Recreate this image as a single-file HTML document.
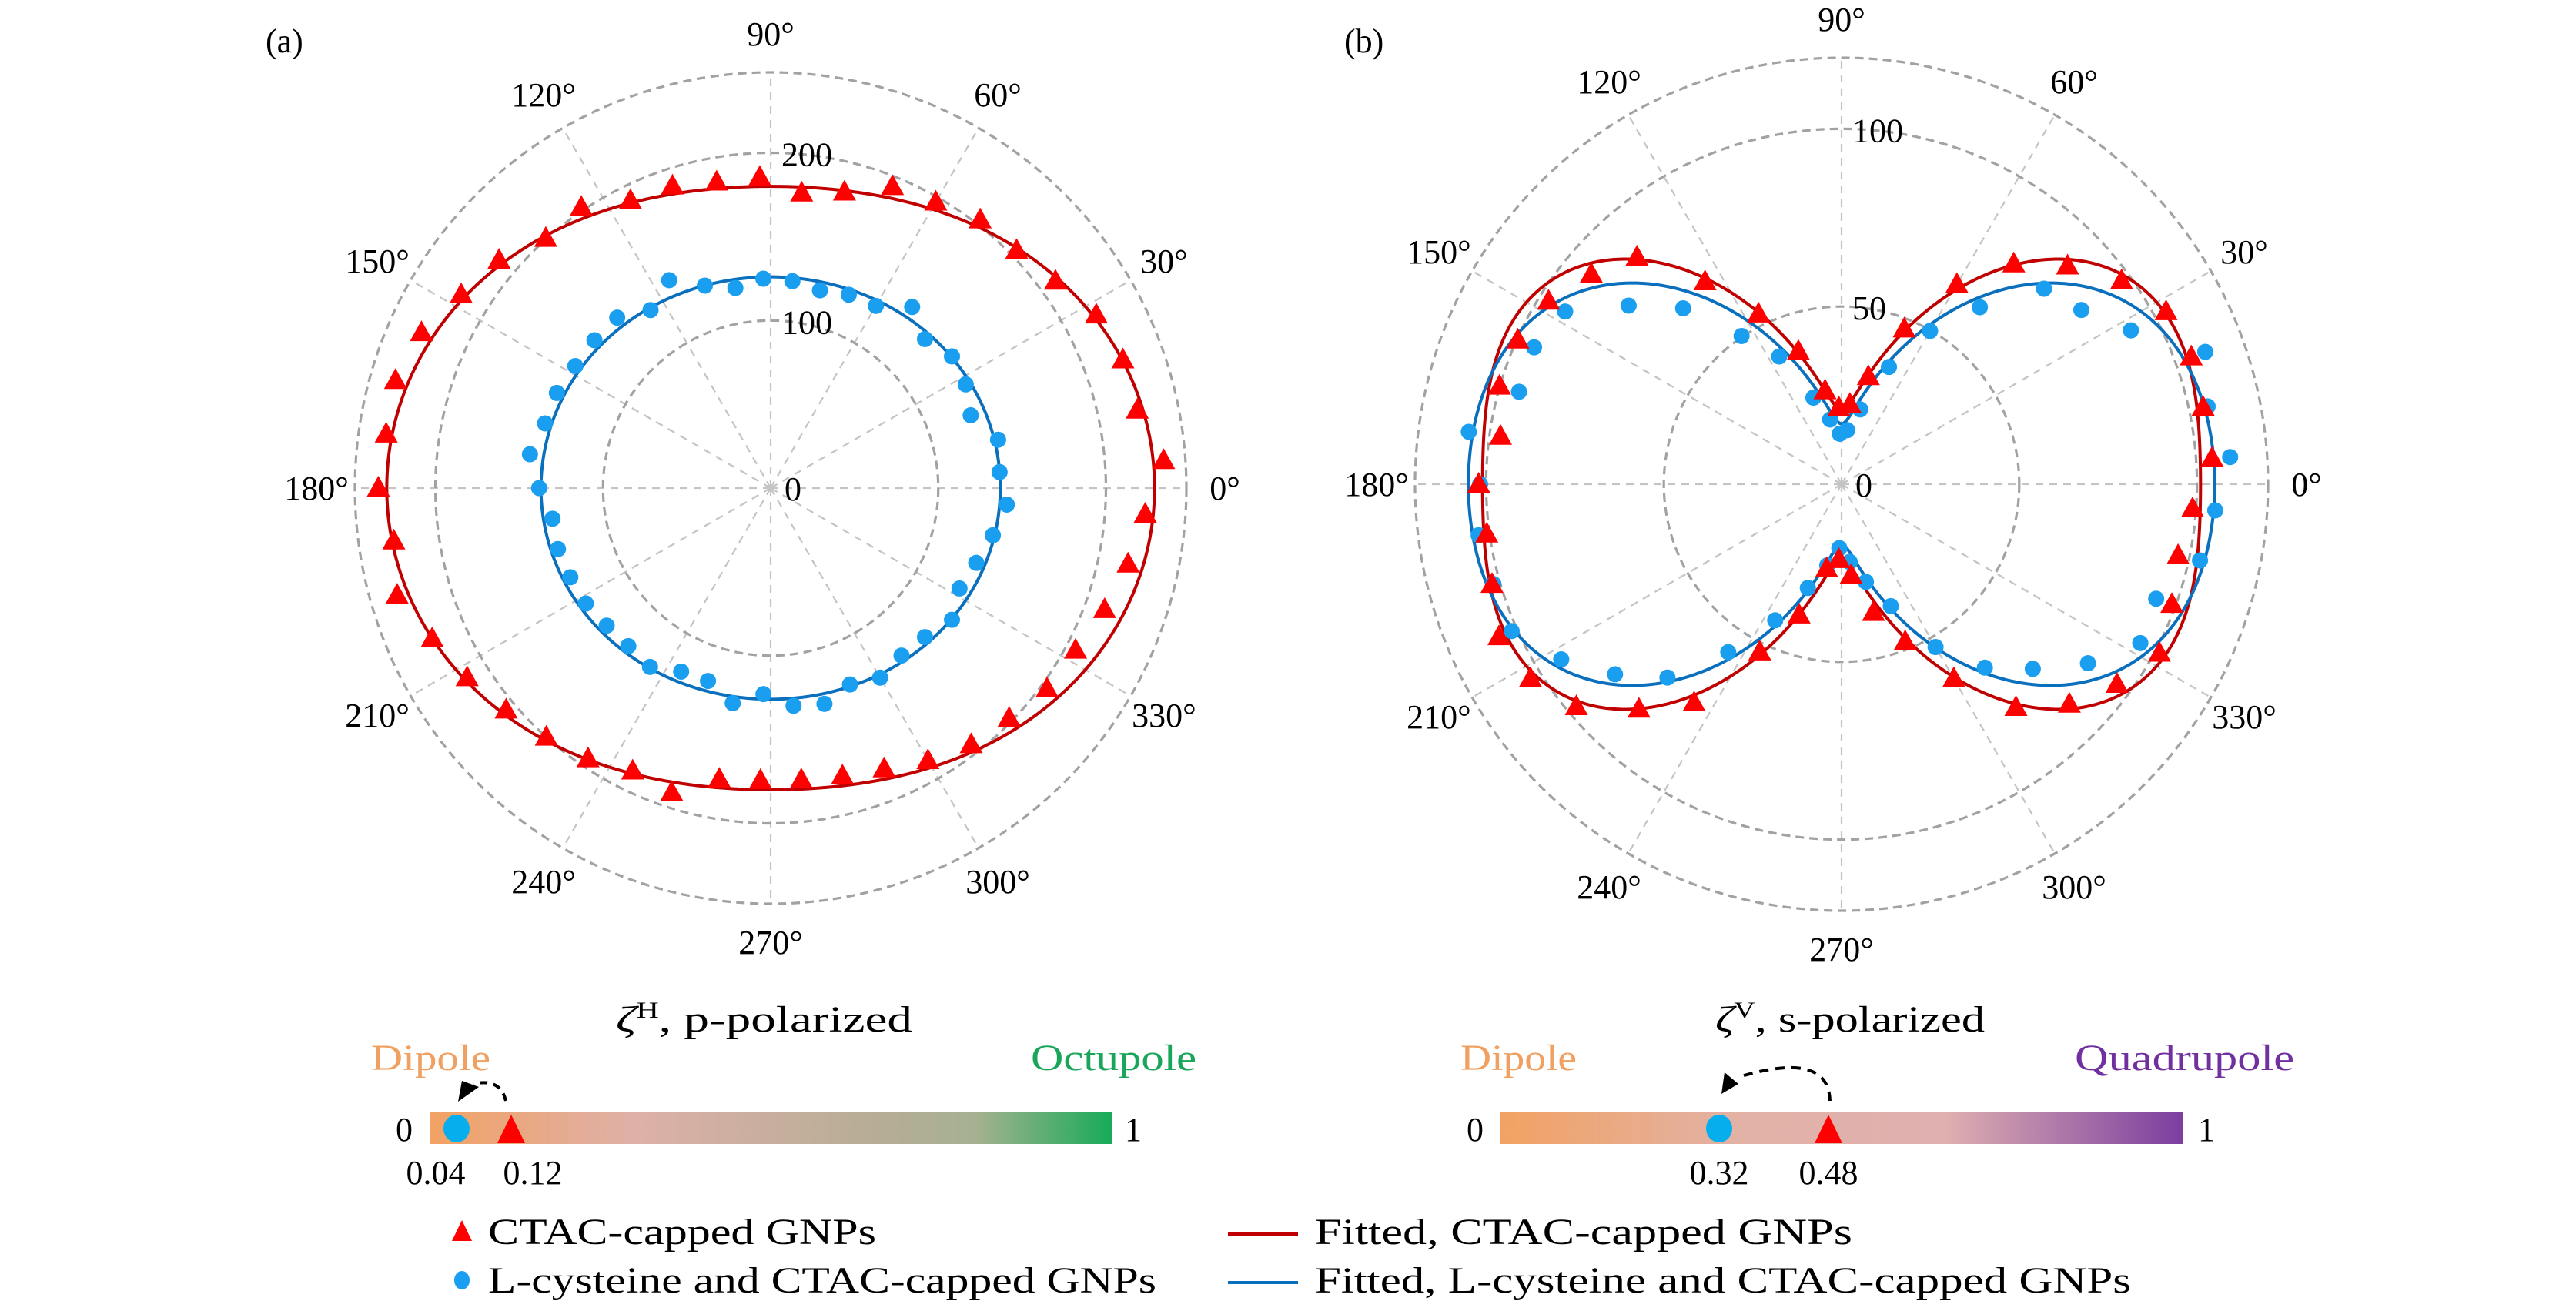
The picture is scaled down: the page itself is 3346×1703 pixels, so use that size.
<!DOCTYPE html>
<html><head><meta charset="utf-8"><style>
html,body{margin:0;padding:0;background:#fff}
svg{display:block}
text{font-family:"Liberation Serif",serif;fill:#000}
</style></head><body>
<svg id="fig" width="3346" height="1703" viewBox="0 0 3346 1703" xmlns="http://www.w3.org/2000/svg">
<defs>
<linearGradient id="gradA" x1="0" x2="1" y1="0" y2="0">
<stop offset="0" stop-color="#f2a263"/><stop offset="0.3" stop-color="#deb0a8"/><stop offset="0.65" stop-color="#b7ad96"/><stop offset="0.8" stop-color="#a6b191"/><stop offset="1" stop-color="#17ab58"/>
</linearGradient>
<linearGradient id="gradB" x1="0" x2="1" y1="0" y2="0">
<stop offset="0" stop-color="#f2a263"/><stop offset="0.35" stop-color="#e2b2a6"/><stop offset="0.65" stop-color="#dfb0b0"/><stop offset="1" stop-color="#7a3ea0"/>
</linearGradient>
</defs>
<g id="panelA"></g>
<g id="panelB"></g>
<text x="345" y="68" font-size="44">(a)</text>
<text x="1746" y="68" font-size="44">(b)</text>

<!-- colorbar a -->
<g>
<text x="800" y="1340" font-size="48" textLength="385" lengthAdjust="spacingAndGlyphs"><tspan font-style="italic">ζ</tspan><tspan font-size="30" dy="-18">H</tspan><tspan dy="18">, p-polarized</tspan></text>
<text x="482" y="1390" font-size="48" textLength="155" lengthAdjust="spacingAndGlyphs" style="fill:#f0a060">Dipole</text>
<text x="1339" y="1390" font-size="48" textLength="215" lengthAdjust="spacingAndGlyphs" style="fill:#19a65a">Octupole</text>
<rect x="558" y="1445" width="886" height="41" fill="url(#gradA)"/>
<text x="525" y="1482" font-size="44" text-anchor="middle">0</text>
<text x="1472" y="1482" font-size="44" text-anchor="middle">1</text>
<ellipse cx="593" cy="1466" rx="17" ry="18" fill="#06aeee"/>
<polygon points="664,1448 682,1485 646,1485" fill="#ff0000"/>
<path d="M657,1430 Q650,1400 615,1408" fill="none" stroke="#000" stroke-width="4" stroke-dasharray="10,8"/>
<polygon points="595,1431 600,1404 622,1412" fill="#000"/>
<text x="566" y="1538" font-size="44" text-anchor="middle">0.04</text>
<text x="692" y="1538" font-size="44" text-anchor="middle">0.12</text>
</g>

<!-- colorbar b -->
<g>
<text x="2228" y="1340" font-size="48" textLength="350" lengthAdjust="spacingAndGlyphs"><tspan font-style="italic">ζ</tspan><tspan font-size="30" dy="-18">V</tspan><tspan dy="18">, s-polarized</tspan></text>
<text x="1897" y="1390" font-size="48" textLength="151" lengthAdjust="spacingAndGlyphs" style="fill:#f0a060">Dipole</text>
<text x="2695" y="1390" font-size="48" textLength="285" lengthAdjust="spacingAndGlyphs" style="fill:#7030a0">Quadrupole</text>
<rect x="1949" y="1445" width="887" height="41" fill="url(#gradB)"/>
<text x="1916" y="1482" font-size="44" text-anchor="middle">0</text>
<text x="2866" y="1482" font-size="44" text-anchor="middle">1</text>
<ellipse cx="2233" cy="1466" rx="17" ry="18" fill="#06aeee"/>
<polygon points="2375,1448 2393,1485 2357,1485" fill="#ff0000"/>
<path d="M2377,1430 Q2375,1365 2262,1398" fill="none" stroke="#000" stroke-width="4" stroke-dasharray="12,9"/>
<polygon points="2236,1421 2240,1393 2258,1408" fill="#000"/>
<text x="2233" y="1538" font-size="44" text-anchor="middle">0.32</text>
<text x="2375" y="1538" font-size="44" text-anchor="middle">0.48</text>
</g>

<!-- legend -->
<g>
<g>
<polygon points="600,1585 613,1612 587,1612" fill="#ff0000"/>
<text x="634" y="1616" font-size="48" textLength="504" lengthAdjust="spacingAndGlyphs">CTAC-capped GNPs</text>
</g>
<g>
<ellipse cx="600" cy="1663" rx="10" ry="12" fill="#1a9ef0"/>
<text x="634" y="1679" font-size="48" textLength="868" lengthAdjust="spacingAndGlyphs">L-cysteine and CTAC-capped GNPs</text>
</g>
<g>
<line x1="1595" y1="1603" x2="1686" y2="1603" stroke="#c00000" stroke-width="4"/>
<text x="1708" y="1616" font-size="48" textLength="698" lengthAdjust="spacingAndGlyphs">Fitted, CTAC-capped GNPs</text>
</g>
<g>
<line x1="1595" y1="1666" x2="1686" y2="1666" stroke="#0a6fbd" stroke-width="4"/>
<text x="1708" y="1679" font-size="48" textLength="1060" lengthAdjust="spacingAndGlyphs">Fitted, L-cysteine and CTAC-capped GNPs</text>
</g>
</g>
</svg>
<script>
// ---- data ----
const angleTicks = [0,30,60,90,120,150,180,210,240,270,300,330];
const angleLabels = ["0°","30°","60°","90°","120°","150°","180°","210°","240°","270°","300°","330°"];
const sampleAngles = [4,12,20,28,36,44,52,60,68,76,84,92,100,108,116,124,132,140,148,156,164,172,180,188,196,204,212,220,228,236,244,252,260,268,276,284,292,300,308,316,324,332,340,348,356];
// panel a (p-polarized)
const aRingTicks = [0,100,200];
const aMax = 248;
const aCtac = [235,223.6,223.6,220,210,204,203,197,194,182,177,185.5,185.4,189.5,190.8,202,200.5,211.5,217.7,228,232.8,231.6,234,227,231.8,221,213.5,206,200,194.8,187.8,191,176.4,174.5,175,177,180.7,187.7,194.3,197.8,203.8,206,212,218,224];
const aLcys = [136.9,138.7,127,131.8,133.7,128,137.1,125.5,124.4,121.6,124.1,125,121.2,127,138,128.1,136.8,137.2,137.4,139.6,140,145,138.1,131.4,132,130.8,130,127.7,126.9,128.7,121.8,121,130.3,123,130.6,132.7,126.4,130.6,126.8,128,133.7,127.6,130.5,135.5,141.2];
// fit params: [dipole amplitude A (cos^2), quadrupole amp Q (sin^2 2θ), offset C]
const aFitCtac = [49,0,180];
const aFitLcys = [11,0,126];
// panel b (s-polarized)
const bRingTicks = [0,50,100];
const bMax = 120;
const bCtac = [104.5,104,104.7,103.4,97.4,88.4,78.7,64.9,47.1,31.2,22.6,21.5,26.7,39.3,53.3,68.7,86,91.9,97.2,99.7,100.1,96.9,102.1,100.8,102.3,105.5,103.2,97.4,85.2,74.2,52.5,38.7,24.1,21.2,25.8,37.2,47.8,63.2,79.7,89.1,95.8,101.3,98.9,96.8,99];
const bLcys = [109.6,105.3,108.9,92.2,83.4,79.2,63.2,49.8,35.6,21.7,15.3,14.2,18.5,25.6,40,50.3,66.6,78.2,91.7,94.7,94.4,105.9,101.7,103.1,101.9,101.6,93,83.2,73.2,57,42.6,30.7,23.2,18,22,28.3,37,52.9,65.5,74.8,85.7,95.2,94.2,103.1,105.4];
const bFitCtac = [80,28.5,21];
const bFitLcys = [88,19,17];

const NS = "http://www.w3.org/2000/svg";
function mk(parent, tag, attrs){
  const e = document.createElementNS(NS, tag);
  for (const k in attrs) e.setAttribute(k, attrs[k]);
  parent.appendChild(e);
  return e;
}
function makeAxis(cx, cy, outerPx, rmax){
  const unit = outerPx / rmax;
  return {
    x: (r, deg) => cx + r*unit*Math.cos(deg*Math.PI/180),
    y: (r, deg) => cy - r*unit*Math.sin(deg*Math.PI/180),
    unit, cx, cy, outerPx, rmax
  };
}
function fitVal(p, deg){
  const t = deg*Math.PI/180;
  const c = Math.cos(t), s2 = Math.sin(2*t);
  return p[0]*c*c + p[1]*s2*s2 + p[2];
}
function drawPanel(g, ax, ringTicks, ctac, lcys, fitC, fitL, labelR, key){
  angleTicks.forEach((a,i)=>{
    const l = mk(g,'line',{x1:ax.cx,y1:ax.cy,x2:ax.x(ax.rmax,a),y2:ax.y(ax.rmax,a),stroke:'#c4c4c4','stroke-width':2.2,'stroke-dasharray':'10,8'});
    
    
  });
  ringTicks.concat([ax.rmax]).forEach(r=>{
    if (r<=0) return;
    const c = mk(g,'circle',{cx:ax.cx,cy:ax.cy,r:r*ax.unit,fill:'none',stroke:'#a2a2a2','stroke-width':3.2,'stroke-dasharray':'11,7'});
    
    
  });
  ringTicks.forEach(r=>{
    const t = mk(g,'text',{x:ax.cx+(r===0?18:14),y:ax.cy-r*ax.unit+(r===0?16:17),'font-size':44});
    t.textContent = String(r);
    
    
  });
  angleTicks.forEach((a,i)=>{
    const t = mk(g,'text',{x:ax.x(ax.rmax,a)+ (labelR)*Math.cos(a*Math.PI/180),y:ax.y(ax.rmax,a)-(labelR)*Math.sin(a*Math.PI/180)+15,'font-size':44,'text-anchor':'middle'});
    t.textContent = angleLabels[i];
    
    
  });
  [[fitC,'#c00000','fit-ctac'],[fitL,'#0a6fbd','fit-lcys']].forEach(([p,col,nm])=>{
    let d='';
    for (let k=0;k<=720;k++){
      const a = k*0.5, r = fitVal(p,a);
      d += (k?'L':'M')+ax.x(r,a).toFixed(2)+','+ax.y(r,a).toFixed(2);
    }
    const path = mk(g,'path',{d:d+'Z',fill:'none',stroke:col,'stroke-width':4});
    
    
  });
  lcys.forEach((r,i)=>{
    const a = sampleAngles[i];
    const c = mk(g,'circle',{cx:ax.x(r,a),cy:ax.y(r,a),r:10.5,fill:'#1a9ef0'});
    
    
  });
  ctac.forEach((r,i)=>{
    const a = sampleAngles[i];
    const x = ax.x(r,a), y = ax.y(r,a);
    const p = mk(g,'polygon',{points:`${x},${y-16} ${x+15},${y+11} ${x-15},${y+11}`,fill:'#ff0000'});
    
    
  });
}
const axA = makeAxis(1001, 634, 540, aMax);
const axB = makeAxis(2392, 629, 554, bMax);
drawPanel(document.getElementById('panelA'), axA, aRingTicks, aCtac, aLcys, aFitCtac, aFitLcys, 50, 'panel-a');
drawPanel(document.getElementById('panelB'), axB, bRingTicks, bCtac, bLcys, bFitCtac, bFitLcys, 50, 'panel-b');
</script>
</body></html>
